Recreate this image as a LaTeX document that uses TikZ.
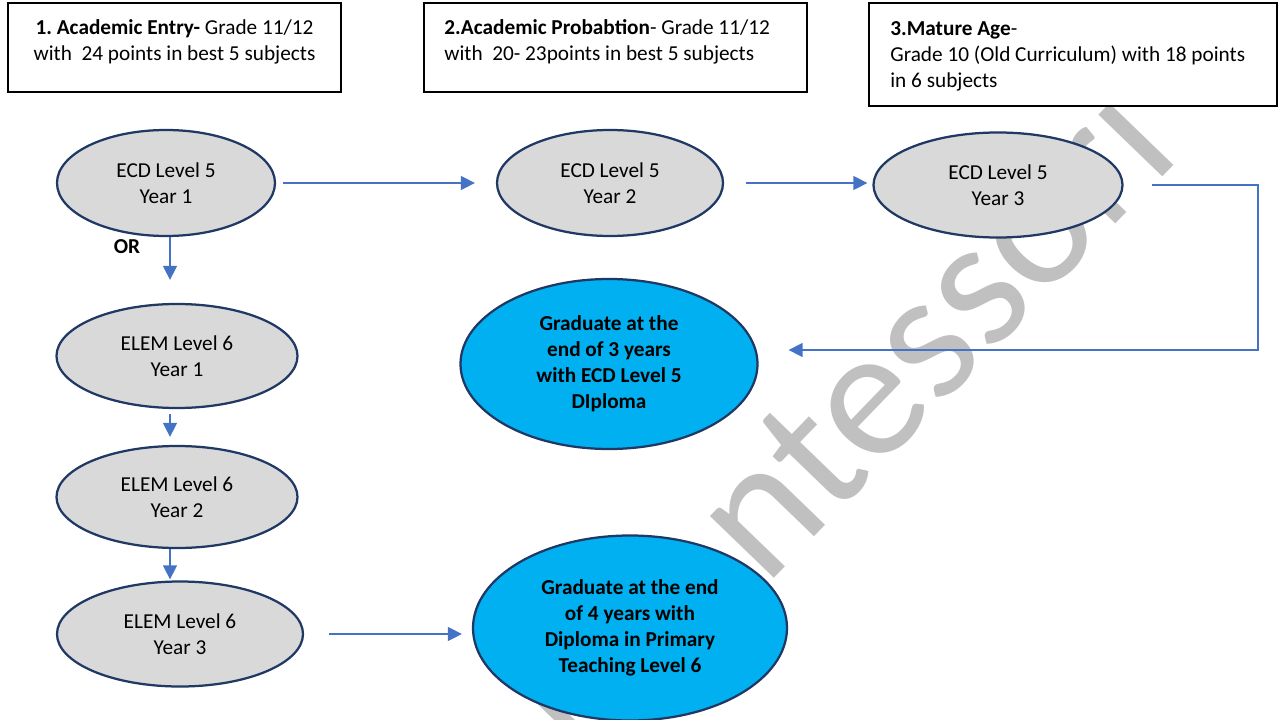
\documentclass[tikz,border=0pt]{standalone}
\usepackage{fontspec}
\setmainfont{Carlito}
\usetikzlibrary{arrows.meta, shapes.geometric}

\definecolor{shapegrey}{HTML}{D9D9D9}
\definecolor{shapeblue}{HTML}{00B0F0}
\definecolor{outline}{HTML}{1F3864}
\definecolor{flowblue}{HTML}{4472C4}
\definecolor{markgrey}{HTML}{C0C0C0}

\frenchspacing

\begin{document}
\begin{tikzpicture}[%
        x = 0.2mm,
        y = -0.2mm,
        > = {Triangle[length=2.8mm, width=2.8mm]},
        font = \fontsize{12.1pt}{14.8pt}\selectfont,
        entry/.style = {draw = black, line width = 0.25mm, fill = white,
            rectangle, inner sep = 0pt},
        course/.style = {draw = outline, line width = 0.45mm,
            fill = shapegrey, ellipse, inner sep = 0pt, align = center},
        award/.style = {draw = outline, line width = 0.45mm,
            fill = shapeblue, ellipse, inner sep = 0pt, align = center,
            font = \fontsize{12.1pt}{14.8pt}\selectfont\bfseries},
        flow/.style = {->, draw = flowblue, line width = 0.26mm},
    ]

        % Fix the size of the picture.
        \useasboundingbox (0, 0) rectangle (1279, 720);

        % Watermark behind everything.
        \begin{scope}
            \clip (0, 0) rectangle (1279, 720);
            \node (mark) at (1183, 155) [anchor = base east, rotate = 46,
                text = markgrey, inner sep = 0pt,
                font = \fontsize{106pt}{106pt}\selectfont] {Montessori};
        \end{scope}

        % Entry requirements.
        \node (box1) at (174.5, 47.5) [entry, minimum width = 66.6mm,
            minimum height = 17.8mm] {};
        \node (box2) at (615.5, 47.5) [entry, minimum width = 76.6mm,
            minimum height = 17.8mm] {};
        \node (box3) at (1073, 54.5) [entry, minimum width = 81.6mm,
            minimum height = 20.6mm] {};

        \node (entry1) at (174.5, 19.5) [anchor = north, inner sep = 0pt,
            align = center]
            {\textbf{1. Academic Entry-} Grade 11/12\\with~ 24 points in best 5 subjects};
        \node (entry2) at (444, 19.5) [anchor = north west, inner sep = 0pt,
            align = left]
            {\textbf{2.Academic Probabtion}- Grade 11/12\\with~ 20- 23points in best 5 subjects};
        \node (entry3) at (890, 20.8) [anchor = north west, inner sep = 0pt,
            align = left]
            {\textbf{3.Mature Age}-\\Grade 10 (Old Curriculum) with 18 points\\in 6 subjects};

        % ECD years.
        \node (ecd1) at (166, 183) [course, minimum width = 43.6mm,
            minimum height = 21.2mm] {ECD Level 5\\Year 1};
        \node (ecd2) at (610, 183) [course, minimum width = 45.2mm,
            minimum height = 21.2mm] {ECD Level 5\\Year 2};
        \node (ecd3) at (998, 185) [course, minimum width = 49.8mm,
            minimum height = 21.0mm] {ECD Level 5\\Year 3};

        % ELEM years.
        \node (elem1) at (177, 356) [course, minimum width = 48.2mm,
            minimum height = 20.8mm] {ELEM Level 6\\Year 1};
        \node (elem2) at (177, 497) [course, minimum width = 48.2mm,
            minimum height = 20.4mm] {ELEM Level 6\\Year 2};
        \node (elem3) at (180, 634) [course, minimum width = 49.2mm,
            minimum height = 21.0mm] {ELEM Level 6\\Year 3};

        % Awards.
        \node (ecdaward) at (609, 364) [award, minimum width = 59.4mm,
            minimum height = 34mm]
            {Graduate at the\\end of 3 years\\with ECD Level 5\\DIploma};
        \node (elemaward) at (630, 628) [award, minimum width = 62.8mm,
            minimum height = 37mm]
            {Graduate at the end\\of 4 years with\\Diploma in Primary\\Teaching Level 6};

        % Helper points for the connectors.
        \coordinate (spine) at (170, 0);
        \coordinate (back) at (1258, 350);

        % Connectors.
        \draw[flow, shorten < = 1.4mm, shorten > = 4.2mm]
            (ecd1.east) to (ecd1.east -| ecd2.west);
        \draw[flow, shorten < = 4.4mm, shorten > = 1mm]
            (ecd2.east) to (ecd2.east -| ecd3.west);
        \draw[flow, shorten < = 5.6mm, shorten > = 6mm]
            (ecd3.east) -| (back) -- (back -| ecdaward.east);

        \draw[flow, shorten > = 4.6mm]
            (ecd1.south -| spine) to (elem1.north -| spine);
        \draw[flow, shorten < = 1mm, shorten > = 1.6mm]
            (elem1.south -| spine) to (elem2.north -| spine);
        \draw[flow, shorten > = 0.2mm]
            (elem2.south -| spine) to (elem3.north -| spine);
        \draw[flow, shorten < = 5mm, shorten > = 2mm]
            (elem3.east) to (elem3.east -| elemaward.west);

        % Label the choice.
        \node (or) at (127, 247) [font = \fontsize{12.1pt}{14.8pt}\selectfont\bfseries] {OR};
    \end{tikzpicture}
\end{document}
